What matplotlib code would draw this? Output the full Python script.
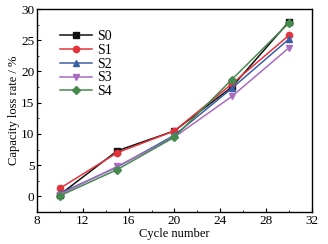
import matplotlib
matplotlib.use("Agg")
import matplotlib.pyplot as plt
from matplotlib.ticker import MultipleLocator

plt.rcParams['font.family'] = ['Liberation Serif', 'DejaVu Serif']
plt.rcParams['mathtext.fontset'] = 'stix'

# === 数据 ===
cycles = [10, 15, 20, 25, 30]
s0 = [0.3, 7.3, 10.5, 17.5, 28.0]
s1 = [1.3, 7.0, 10.5, 18.0, 25.8]
s2 = [0.5, 4.7, 9.8, 17.3, 25.2]
s3 = [0.3, 4.8, 9.5, 16.0, 23.8]
s4 = [0.1, 4.3, 9.5, 18.7, 27.8]
labels = ["S0", "S1", "S2", "S3", "S4"]

series = [s0, s1, s2, s3, s4]
colors = ["#111111", "#e3343b", "#3b5fa6", "#a96cc0", "#478a4e"]
markers = ["s", "o", "^", "v", "D"]

fig = plt.figure(figsize=(3.28, 2.44), dpi=100)
ax = fig.add_axes([0.113, 0.131, 0.838, 0.832])

for ys, c, m, lab in zip(series, colors, markers, labels):
    ax.plot(cycles, ys, color=c, marker=m, markersize=4.5, linewidth=1.1, label=lab)

ax.set_xlim(8, 32)
ax.set_ylim(-2.5, 30)
ax.xaxis.set_major_locator(MultipleLocator(4))
ax.xaxis.set_minor_locator(MultipleLocator(2))
ax.yaxis.set_major_locator(MultipleLocator(5))
ax.yaxis.set_minor_locator(MultipleLocator(2.5))
ax.tick_params(which='both', direction='in', labelsize=9.5, pad=2)
ax.tick_params(which='major', length=3)
ax.tick_params(which='minor', length=1.5)
for sp in ax.spines.values():
    sp.set_linewidth(1.0)

ax.set_xlabel("Cycle number", fontsize=9, labelpad=1)
ax.set_ylabel("Capacity loss rate / %", fontsize=9, labelpad=1)

ax.legend(loc='upper left', bbox_to_anchor=(0.084, 0.895), frameon=False, fontsize=10,
          handlelength=2.3, labelspacing=0.05, handletextpad=0.35,
          borderaxespad=0, borderpad=0)

fig.savefig("out.png", dpi=100)
